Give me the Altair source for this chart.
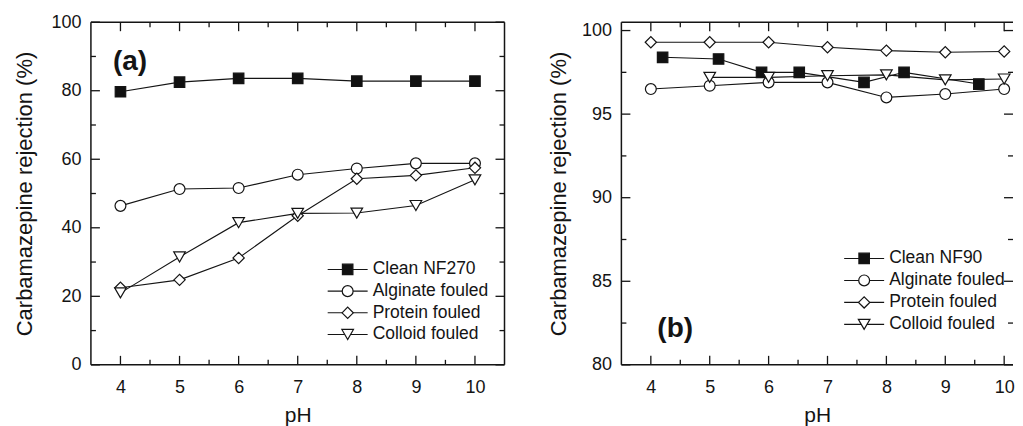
import altair as alt
import pandas as pd

# ---------------- data ----------------
ph = [4, 5, 6, 7, 8, 9, 10]

kinds = ["clean", "alginate", "protein", "colloid"]
labels_a = ["Clean NF270", "Alginate fouled", "Protein fouled", "Colloid fouled"]
labels_b = ["Clean NF90", "Alginate fouled", "Protein fouled", "Colloid fouled"]

a_clean = [79.7, 82.5, 83.6, 83.6, 82.8, 82.8, 82.8]
a_alginate = [46.4, 51.3, 51.6, 55.5, 57.3, 58.8, 58.8]
a_protein = [22.5, 24.8, 31.2, 43.5, 54.3, 55.3, 57.5]
a_colloid = [21.0, 31.5, 41.5, 44.2, 44.3, 46.5, 54.0]

b_clean_ph = [4.2, 5.15, 5.88, 6.52, 7.62, 8.3, 9.57]
b_clean = [98.4, 98.3, 97.5, 97.5, 96.9, 97.5, 96.8]
b_alginate = [96.5, 96.7, 96.9, 96.9, 96.0, 96.2, 96.5]
b_protein = [99.3, 99.3, 99.3, 99.0, 98.8, 98.7, 98.75]
b_colloid_ph = [5, 6, 7, 8, 9, 10]
b_colloid = [97.2, 97.2, 97.3, 97.35, 97.05, 97.1]

x_major = [4, 5, 6, 7, 8, 9, 10]
x_minor = [4.5, 5.5, 6.5, 7.5, 8.5, 9.5]
a_y_major = [0, 20, 40, 60, 80, 100]
a_y_minor = [10, 30, 50, 70, 90]
b_y_major = [80, 85, 90, 95, 100]
b_y_minor = [82.5, 87.5, 92.5, 97.5]

shapes = ["square", "circle", "diamond", "triangle-down"]
fills = ["#111111", "#ffffff", "#ffffff", "#ffffff"]
sizes = [110, 135, 190, 165]

FONT = "Liberation Sans"
INK = "#141414"


def table(parts):
    rows = []
    for kind, xs_, ys_ in parts:
        for x, y in zip(xs_, ys_):
            rows.append({"kind": kind, "pH": x, "r": y})
    return pd.DataFrame(rows)


df_a = table([("clean", ph, a_clean), ("alginate", ph, a_alginate),
              ("protein", ph, a_protein), ("colloid", ph, a_colloid)])
df_b = table([("clean", b_clean_ph, b_clean), ("alginate", ph, b_alginate),
              ("protein", ph, b_protein), ("colloid", b_colloid_ph, b_colloid)])


def make_panel(df, xdom, ydom, W, H, y_major, y_minor, tag, tag_pos,
               labels, leg, ytitle_pad, right_frame):
    xs = alt.Scale(domain=xdom, nice=False, zero=False)
    ys = alt.Scale(domain=ydom, nice=False, zero=False)
    X = alt.X("pH:Q", scale=xs,
              axis=alt.Axis(values=x_major, title="pH", ticks=False, tickSize=0,
                            domain=False, grid=False, labelPadding=14,
                            titlePadding=8, titleFontSize=21, format="d"))
    Y = alt.Y("r:Q", scale=ys,
              axis=alt.Axis(values=y_major, title="Carbamazepine rejection (%)",
                            ticks=False, tickSize=0, domain=False, grid=False,
                            labelPadding=10, titlePadding=ytitle_pad,
                            titleFontSize=22, format="d"))
    kind_enc = dict(
        shape=alt.Shape("kind:N", scale=alt.Scale(domain=kinds, range=shapes), legend=None),
        fill=alt.Fill("kind:N", scale=alt.Scale(domain=kinds, range=fills), legend=None),
        size=alt.Size("kind:N", scale=alt.Scale(domain=kinds, range=sizes), legend=None),
    )

    layers = []
    one = pd.DataFrame({"o": [0]})
    fr = alt.Chart(one).mark_rule(color=INK, strokeWidth=1.5)
    layers.append(fr.encode(x=alt.value(0), x2=alt.value(W), y=alt.value(0)))
    layers.append(fr.encode(x=alt.value(0), x2=alt.value(W), y=alt.value(H)))
    layers.append(fr.encode(x=alt.value(0), y=alt.value(0), y2=alt.value(H)))
    if right_frame:
        layers.append(fr.encode(x=alt.value(W), y=alt.value(0), y2=alt.value(H)))

    def xt(vals, L):
        d = pd.DataFrame({"pH": vals})
        base = alt.Chart(d).mark_rule(color=INK, strokeWidth=1.3)
        return [base.encode(x=alt.X("pH:Q", scale=xs), y=alt.value(H), y2=alt.value(H - L)),
                base.encode(x=alt.X("pH:Q", scale=xs), y=alt.value(0), y2=alt.value(L))]

    def yt(vals, L):
        d = pd.DataFrame({"r": vals})
        base = alt.Chart(d).mark_rule(color=INK, strokeWidth=1.3)
        return [base.encode(y=alt.Y("r:Q", scale=ys), x=alt.value(0), x2=alt.value(L)),
                base.encode(y=alt.Y("r:Q", scale=ys), x=alt.value(W), x2=alt.value(W - L))]

    layers += xt(x_major, 9) + xt(x_minor, 5) + yt(y_major, 9) + yt(y_minor, 5)

    lines = alt.Chart(df).mark_line(color=INK, strokeWidth=1.1).encode(
        x=X, y=Y, detail="kind:N")
    points = alt.Chart(df).mark_point(filled=True, opacity=1, stroke=INK,
                                      strokeWidth=1.2).encode(
        x=alt.X("pH:Q", scale=xs), y=alt.Y("r:Q", scale=ys), **kind_enc)
    layers += [lines, points]

    layers.append(alt.Chart(pd.DataFrame({"t": [tag]})).mark_text(
        font=FONT, fontSize=28, fontWeight="bold", align="left",
        baseline="alphabetic", color=INK).encode(
        x=alt.value(tag_pos[0]), y=alt.value(tag_pos[1]), text="t:N"))

    for i, (k, lab) in enumerate(zip(kinds, labels)):
        yy = leg["y0"] + i * leg["gap"]
        d = pd.DataFrame({"kind": [k], "t": [lab]})
        layers.append(alt.Chart(d).mark_rule(color=INK, strokeWidth=1.1).encode(
            x=alt.value(leg["x1"]), x2=alt.value(leg["x2"]), y=alt.value(yy)))
        layers.append(alt.Chart(d).mark_point(filled=True, opacity=1, stroke=INK,
                                              strokeWidth=1.2).encode(
            x=alt.value(leg["xc"]), y=alt.value(yy), **kind_enc))
        layers.append(alt.Chart(d).mark_text(
            font=FONT, fontSize=17.5, align="left", baseline="middle",
            color=INK).encode(x=alt.value(leg["xt"]), y=alt.value(yy), text="t:N"))

    return alt.layer(*layers).properties(width=W, height=H)


pa = make_panel(df_a, [3.5, 10.5], [0, 100], 414, 343, a_y_major, a_y_minor,
                "(a)", (22, 48), labels_a,
                dict(x1=237, x2=277, xc=257, xt=282, y0=247.5, gap=21.7),
                14, True)
pb = make_panel(df_b, [3.5, 10.15], [80, 100.5], 392, 343, b_y_major, b_y_minor,
                "(b)", (36, 315), labels_b,
                dict(x1=223, x2=263, xc=243, xt=268, y0=236.5, gap=22),
                11, False)

chart = alt.hconcat(pa, pb, spacing=40).properties(
    padding={"left": 5, "top": 4, "right": 0, "bottom": 0}
).configure_view(stroke="transparent").configure_axis(
    labelFont=FONT, titleFont=FONT, labelFontSize=18,
    labelColor=INK, titleColor=INK, titleFontWeight="normal"
)

chart.save("out.html", embed_options={"renderer": "svg", "actions": False})
